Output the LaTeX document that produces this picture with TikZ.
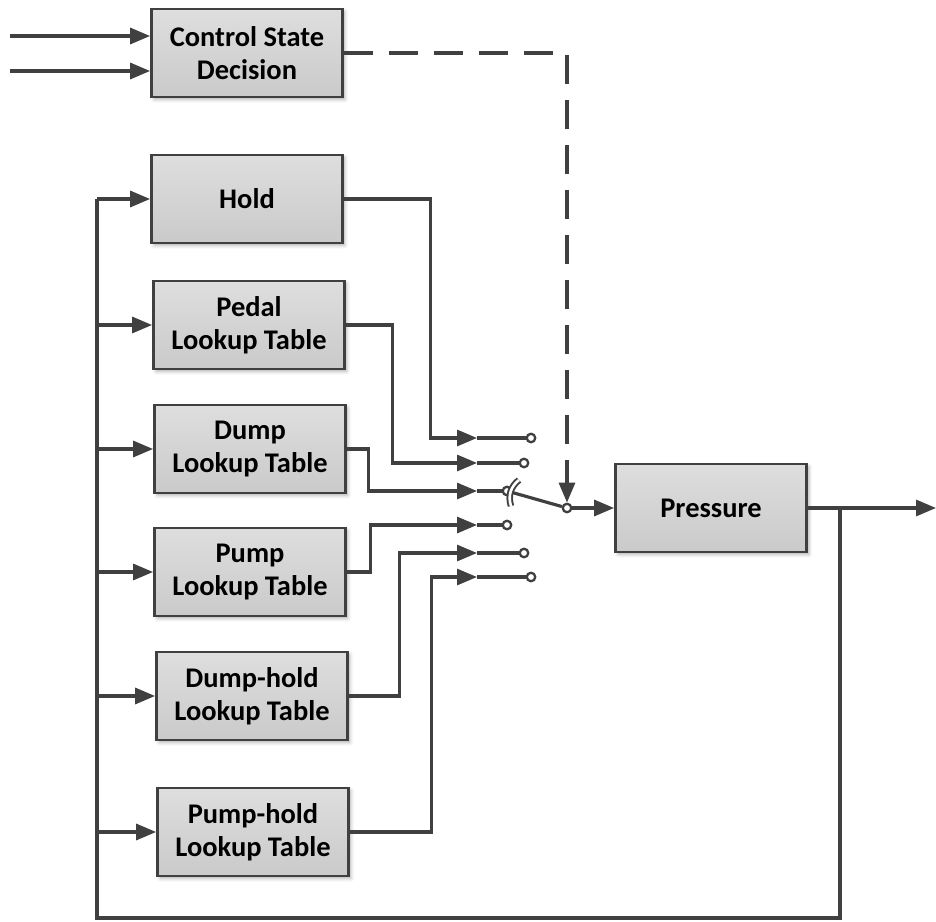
\documentclass[tikz,border=0pt]{standalone}
\usepackage{fontspec}
\setmainfont{Carlito}
\usetikzlibrary{arrows.meta,positioning,calc,shadows.blur}
\definecolor{linecol}{RGB}{64,64,64}
\definecolor{boxtop}{RGB}{222,222,222}
\definecolor{boxbot}{RGB}{202,202,202}
\tikzset{
  blockbox/.style={draw=linecol, line width=1.6pt, top color=boxtop, bottom color=boxbot,
    minimum width=3.82cm, minimum height=1.76cm, align=center,
    font=\bfseries\fontsize{16.2}{19}\selectfont,
    blur shadow={shadow xshift=0.5mm, shadow yshift=-0.5mm, shadow blur steps=4, shadow opacity=30}},
  wireln/.style={line width=1.8pt, draw=linecol},
  sigln/.style={wireln, -{Triangle[length=4mm,width=3.2mm]}},
  ctrlln/.style={sigln, dash pattern=on 5.8mm off 3.2mm},
  contact/.style={circle, draw=linecol, line width=1.3pt, fill=white, inner sep=0pt, minimum size=1.7mm},
}

\begin{document}
\begin{tikzpicture}[x=0.02cm, y=-0.02cm]
    \useasboundingbox (0,0) rectangle (936,922);
    % Blocks
    \node[blockbox] (csd) at (247,53) {Control State\\Decision};
    \node[blockbox] (hold) at (247,199) {Hold};
    \node[blockbox] (pedal) at (249,325) {Pedal\\Lookup Table};
    \node[blockbox] (dump) at (250,449) {Dump\\Lookup Table};
    \node[blockbox] (pump) at (250,572) {Pump\\Lookup Table};
    \node[blockbox] (dhold) at (252,696) {Dump-hold\\Lookup Table};
    \node[blockbox] (phold) at (253,832) {Pump-hold\\Lookup Table};
    \node[blockbox] (press) at (711,508) {Pressure};
    % Inputs to the decision block
    \coordinate (in1) at (10,36);
    \coordinate (in2) at (10,71);
    \draw[sigln] (in1) -- (in1 -| csd.west);
    \draw[sigln] (in2) -- (in2 -| csd.west);
    % Switch contacts
    \foreach \n/\x/\y in {1/531/438, 2/524/463, 3/507/491, 4/507/525, 5/524/553, 6/531/577} {
      \coordinate (t\n) at (477,\y);
      \node[contact] (c\n) at (\x,\y) {};
      \draw[wireln] (t\n) -- (c\n);
    }
    \node[contact] (pivot) at (567,508) {};
    % Switch arm
    \draw[wireln] (c3) -- (pivot);
    \draw[draw=linecol, line width=1.1pt, double=white, double distance=1.5pt]
      (519,480) to[bend right=35] (511,506);
    % Lookup outputs into the switch
    \draw[sigln] (hold.east) -- ++(87,0) |- (t1);
    \draw[sigln] (pedal.east) -- ++(47,0) |- (t2);
    \draw[sigln] (dump.east) -- ++(22,0) |- (t3);
    \draw[sigln] (pump.east) -- ++(24,0) |- (t4);
    \draw[sigln] (dhold.east) -- ++(51,0) |- (t5);
    \draw[sigln] (phold.east) -- ++(82,0) |- (t6);
    % Control signal
    \draw[ctrlln] (csd.east) -| (pivot.north);
    % Output
    \coordinate (out) at (936,508);
    \draw[sigln] (pivot) -- (press.west);
    \draw[sigln] (press.east) -- (out);
    % Feedback
    \coordinate (fbr) at (840,508);
    \coordinate (fbb) at (840,918);
    \coordinate (fbl) at (97,918);
    \draw[wireln] (fbr) -- (fbb) -- (fbl) -- (hold.west -| fbl);
    \foreach \b in {hold,pedal,dump,pump,dhold,phold}
      \draw[sigln] (\b.west -| fbl) -- (\b.west);
\end{tikzpicture}
\end{document}
